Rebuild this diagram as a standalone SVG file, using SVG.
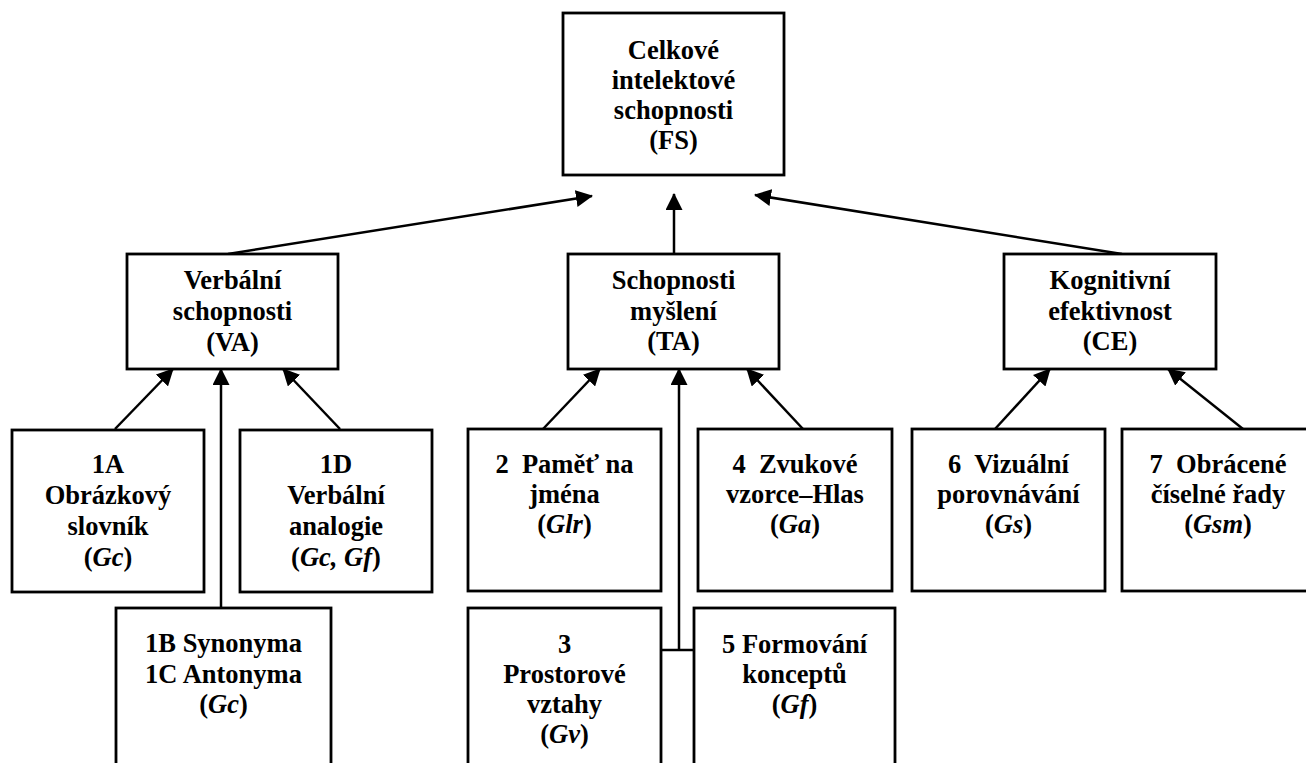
<svg xmlns="http://www.w3.org/2000/svg" width="1306" height="763" viewBox="0 0 1306 763" font-family="Liberation Serif, Times New Roman, DejaVu Serif, serif">
<style>
.box{fill:#fff;stroke:#000;stroke-width:2.8}
text{font-weight:bold;font-size:26.5px;text-anchor:middle;fill:#000}
.i{font-style:italic}
.c{stroke:#000;stroke-width:2.5;fill:none}
</style>
<defs>
<marker id="ah" markerUnits="userSpaceOnUse" markerWidth="17" markerHeight="17" refX="16" refY="8.5" orient="auto">
<path d="M0,0 L17,8.5 L0,17 z" fill="#000"/>
</marker>
</defs>
<rect width="1306" height="763" fill="#fff"/>
<g id="connectors">
<line class="c" x1="228" y1="254" x2="592" y2="196" marker-end="url(#ah)"/>
<line class="c" x1="674" y1="254" x2="674" y2="194" marker-end="url(#ah)"/>
<line class="c" x1="1122" y1="254" x2="755" y2="195" marker-end="url(#ah)"/>
<line class="c" x1="115" y1="429" x2="173" y2="369" marker-end="url(#ah)"/>
<line class="c" x1="221" y1="608" x2="221" y2="369" marker-end="url(#ah)"/>
<line class="c" x1="340" y1="429" x2="283" y2="369" marker-end="url(#ah)"/>
<line class="c" x1="543" y1="429" x2="600" y2="369" marker-end="url(#ah)"/>
<line class="c" x1="803" y1="429" x2="747" y2="369" marker-end="url(#ah)"/>
<line class="c" x1="679" y1="650" x2="679" y2="369" marker-end="url(#ah)"/>
<line class="c" x1="661" y1="650" x2="697" y2="650"/>
<line class="c" x1="995" y1="429" x2="1050" y2="369" marker-end="url(#ah)"/>
<line class="c" x1="1243" y1="429" x2="1168" y2="369" marker-end="url(#ah)"/>
</g>
<g id="FS">
<rect class="box" x="563" y="13" width="221" height="162"/>
<text x="673.5" y="59">Celkové</text>
<text x="673.5" y="89">intelektové</text>
<text x="673.5" y="119">schopnosti</text>
<text x="673.5" y="149">(FS)</text>
</g>
<g id="VA">
<rect class="box" x="127" y="254" width="211" height="115"/>
<text x="232.5" y="289">Verbální</text>
<text x="232.5" y="320">schopnosti</text>
<text x="232.5" y="351">(VA)</text>
</g>
<g id="TA">
<rect class="box" x="568" y="254" width="211" height="115"/>
<text x="673.5" y="289">Schopnosti</text>
<text x="673.5" y="320">myšlení</text>
<text x="673.5" y="350">(TA)</text>
</g>
<g id="CE">
<rect class="box" x="1004" y="254" width="212" height="115"/>
<text x="1110" y="289">Kognitivní</text>
<text x="1110" y="320">efektivnost</text>
<text x="1110" y="350">(CE)</text>
</g>
<g id="n1A">
<rect class="box" x="12" y="430" width="192" height="162"/>
<text x="108" y="473">1A</text>
<text x="108" y="504">Obrázkový</text>
<text x="108" y="535">slovník</text>
<text x="108" y="566">(<tspan class="i">Gc</tspan>)</text>
</g>
<g id="n1D">
<rect class="box" x="240" y="430" width="192" height="162"/>
<text x="336" y="473">1D</text>
<text x="336" y="504">Verbální</text>
<text x="336" y="535">analogie</text>
<text x="336" y="566">(<tspan class="i">Gc, Gf</tspan>)</text>
</g>
<g id="n1B">
<rect class="box" x="116" y="608" width="215" height="170"/>
<text x="223.5" y="652">1B Synonyma</text>
<text x="223.5" y="683">1C Antonyma</text>
<text x="223.5" y="713">(<tspan class="i">Gc</tspan>)</text>
</g>
<g id="n2">
<rect class="box" x="468" y="429" width="193" height="162"/>
<text x="564.5" y="473" xml:space="preserve">2  Paměť na</text>
<text x="564.5" y="503">jména</text>
<text x="564.5" y="533">(<tspan class="i">Glr</tspan>)</text>
</g>
<g id="n4">
<rect class="box" x="698" y="429" width="194" height="162"/>
<text x="795" y="473" xml:space="preserve">4  Zvukové</text>
<text x="795" y="503">vzorce–Hlas</text>
<text x="795" y="533">(<tspan class="i">Ga</tspan>)</text>
</g>
<g id="n3">
<rect class="box" x="468" y="608" width="193" height="170"/>
<text x="564.5" y="653">3</text>
<text x="564.5" y="683">Prostorové</text>
<text x="564.5" y="713">vztahy</text>
<text x="564.5" y="743">(<tspan class="i">Gv</tspan>)</text>
</g>
<g id="n5">
<rect class="box" x="694" y="608" width="201" height="170"/>
<text x="794.5" y="653">5 Formování</text>
<text x="794.5" y="683">konceptů</text>
<text x="794.5" y="713">(<tspan class="i">Gf</tspan>)</text>
</g>
<g id="n6">
<rect class="box" x="912" y="429" width="193" height="162"/>
<text x="1008.5" y="473" xml:space="preserve">6  Vizuální</text>
<text x="1008.5" y="503">porovnávání</text>
<text x="1008.5" y="533">(<tspan class="i">Gs</tspan>)</text>
</g>
<g id="n7">
<rect class="box" x="1122" y="429" width="194" height="162"/>
<text x="1218" y="473" xml:space="preserve">7  Obrácené</text>
<text x="1218" y="503">číselné řady</text>
<text x="1218" y="533">(<tspan class="i">Gsm</tspan>)</text>
</g>
</svg>
